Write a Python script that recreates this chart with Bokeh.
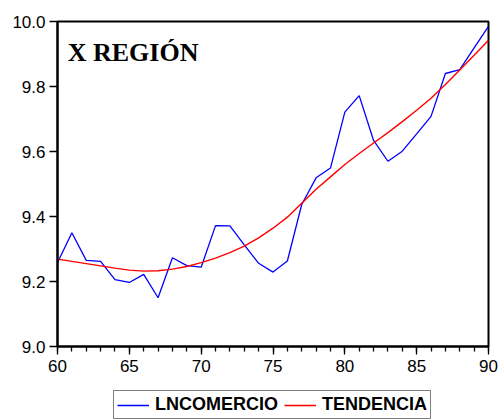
from bokeh.plotting import figure
from bokeh.layouts import column
from bokeh.models import Legend, LegendItem, SingleIntervalTicker, Label, PrintfTickFormatter
from bokeh.embed import file_html
from bokeh.resources import INLINE

years = list(range(60, 91))
lncomercio = [9.258, 9.350, 9.265, 9.262, 9.206, 9.197, 9.222, 9.150, 9.273, 9.249,
              9.244, 9.372, 9.371, 9.313, 9.256, 9.229, 9.263, 9.437, 9.519, 9.549,
              9.721, 9.772, 9.634, 9.570, 9.601, 9.654, 9.708, 9.840, 9.852, 9.919,
              9.985]
tendencia = [9.269, 9.262, 9.255, 9.248, 9.241, 9.235, 9.232, 9.233, 9.238, 9.246,
             9.258, 9.272, 9.289, 9.309, 9.334, 9.364, 9.398, 9.441, 9.484, 9.522,
             9.560, 9.594, 9.626, 9.658, 9.692, 9.727, 9.764, 9.806, 9.851, 9.896,
             9.942]
title_text = "X REGIÓN"
series_names = ["LNCOMERCIO", "TENDENCIA"]
blue_color = "#0000FF"
red_color = "#FF0000"

p = figure(x_range=(60, 90), y_range=(9.0, 10.0),
           width=500, height=380,
           min_border_left=57, min_border_right=12, min_border_top=21, min_border_bottom=34,
           output_backend="svg", toolbar_location=None,
           background_fill_color="white", border_fill_color="white")

p.xgrid.visible = False
p.ygrid.visible = False
p.outline_line_color = "black"
p.outline_line_width = 2

p.line(years, lncomercio, line_color=blue_color, line_width=1.3)
p.line(years, tendencia, line_color=red_color, line_width=1.4)

p.xaxis.ticker = SingleIntervalTicker(interval=5, num_minor_ticks=5)
p.yaxis.ticker = SingleIntervalTicker(interval=0.2, num_minor_ticks=0)
p.yaxis.formatter = PrintfTickFormatter(format="%.1f")

for ax in (p.xaxis[0], p.yaxis[0]):
    ax.axis_line_color = "black"
    ax.axis_line_width = 2
    ax.major_tick_line_color = "black"
    ax.major_tick_line_width = 1.3
    ax.minor_tick_line_color = "black"
    ax.minor_tick_line_width = 1.3
    ax.major_tick_in = 0
    ax.major_tick_out = 8
    ax.minor_tick_in = 0
    ax.minor_tick_out = 5
    ax.major_label_text_font = "Liberation Sans"
    ax.major_label_text_font_size = "17px"
    ax.major_label_text_color = "black"

p.yaxis.major_label_standoff = 4
p.xaxis.major_label_standoff = 5

p.add_layout(Label(x=60.71, y=9.906, text=title_text, text_font="Liberation Serif",
                   text_font_style="bold", text_font_size="26px", text_color="black",
                   text_baseline="alphabetic"))

# legend strip below the chart (its lines lie outside its own ranges, so only the legend shows)
lg = figure(width=500, height=39, x_range=(0, 1), y_range=(0, 1),
            x_axis_type=None, y_axis_type=None,
            min_border_left=0, min_border_right=0, min_border_top=0, min_border_bottom=0,
            output_backend="svg", toolbar_location=None,
            background_fill_color="white", border_fill_color="white")
lg.outline_line_color = None
lg.xgrid.visible = False
lg.ygrid.visible = False
r_blue = lg.line(years, lncomercio, line_color=blue_color, line_width=1.3)
r_red = lg.line(years, tendencia, line_color=red_color, line_width=1.4)

legend = Legend(items=[LegendItem(label=series_names[0], renderers=[r_blue]),
                       LegendItem(label=series_names[1], renderers=[r_red])],
                orientation="horizontal", location=(56, 0),
                label_text_font="Liberation Sans", label_text_font_style="bold",
                label_text_font_size="18px", label_text_color="black",
                glyph_width=32, glyph_height=20, label_height=20, label_standoff=6,
                spacing=6, padding=3, margin=0,
                border_line_color="black", border_line_width=1.5,
                background_fill_color="white", background_fill_alpha=1.0)
lg.add_layout(legend, "center")

layout = column(p, lg, spacing=0)
open("out.html", "w").write(file_html(layout, INLINE))
